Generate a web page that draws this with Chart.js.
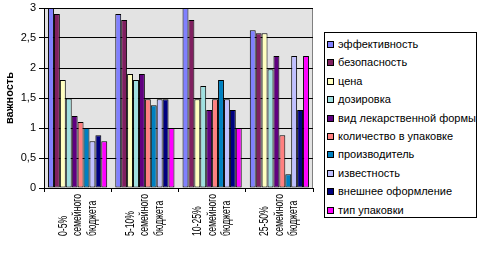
<!DOCTYPE html>
<html>
<head>
<meta charset="utf-8">
<script src="https://cdn.jsdelivr.net/npm/chart.js@4/dist/chart.umd.min.js"></script>
<style>
  body { margin: 0; background: #fff; }
  #wrap { position: relative; width: 480px; height: 255px; }
  #legend {
    position: absolute; left: 324px; top: 32px; width: 151px; height: 184px;
    border: 1px solid #000; background: #fff;
    font: 11px "Liberation Sans", Arial, sans-serif; color: #000;
  }
  .item { position: absolute; left: 2px; height: 14px; line-height: 14px; white-space: nowrap; }
  .item span.box {
    display: inline-block; width: 5px; height: 5px; border: 1px solid #000;
    margin-right: 4px; vertical-align: 0px;
  }
</style>
</head>
<body>
<div id="wrap">
  <canvas id="chart" width="480" height="255"></canvas>
  <div id="legend"></div>
</div>
<script>
// категории (доля семейного бюджета)
const categories = [
  ['0-5%', 'семейного', 'бюджета'],
  ['5-10%', 'семейного', 'бюджета'],
  ['10-25%', 'семейного', 'бюджета'],
  ['25-50%', 'семейного', 'бюджета']
];

const seriesNames = [
  'эффективность', 'безопасность', 'цена', 'дозировка', 'вид лекарственной формы',
  'количество в упаковке', 'производитель', 'известность', 'внешнее оформление', 'тип упаковки'
];

// excel-ish palette
const seriesColors = [
  '#8080FF', '#802060', '#FFFFC0', '#A0E0E0', '#600080',
  '#FF8080', '#0080C0', '#C0C0FF', '#000080', '#FF00FF'
];

const effectiveness = [3.0, 2.9, 3.0, 2.63];
const safety        = [2.9, 2.8, 2.8, 2.58];
const price         = [1.8, 1.9, 1.48, 2.58];
const dosage        = [1.49, 1.8, 1.7, 1.98];
const dosageForm    = [1.2, 1.9, 1.3, 2.2];
const packQuantity  = [1.1, 1.48, 1.48, 0.88];
const producer      = [1.0, 1.38, 1.8, 0.23];
const popularity    = [0.78, 1.48, 1.48, 2.2];
const appearance    = [0.88, 1.48, 1.3, 1.3];
const packType      = [0.78, 1.0, 1.0, 2.2];

const seriesValues = [effectiveness, safety, price, dosage, dosageForm,
  packQuantity, producer, popularity, appearance, packType];

const yTicks = [0, 0.5, 1, 1.5, 2, 2.5, 3];

const FONT = '"Liberation Sans", Arial, sans-serif';

const plotBg = {
  id: 'plotBg',
  beforeDraw(chart) {
    const { ctx, chartArea: a } = chart;
    ctx.save();
    ctx.fillStyle = '#E3E3E3';
    ctx.fillRect(a.left, a.top, a.right - a.left, a.bottom - a.top);
    ctx.strokeStyle = '#808080';
    ctx.lineWidth = 1;
    ctx.strokeRect(a.left + 0.5, a.top + 0.5, a.right - a.left - 1, a.bottom - a.top);
    ctx.restore();
  }
};

// category labels: vertical, several lines side by side, read bottom to top
const xLabels = {
  id: 'xLabels',
  afterDraw(chart) {
    const { ctx } = chart;
    const xs = chart.scales.x;
    ctx.save();
    ctx.fillStyle = '#000';
    ctx.font = '12px ' + FONT;
    ctx.textAlign = 'left';
    ctx.textBaseline = 'alphabetic';
    categories.forEach((lines, i) => {
      const cx = xs.getPixelForValue(i);
      lines.forEach((t, j) => {
        ctx.save();
        ctx.translate(cx - 11 + j * 14.5, xs.top + 48);
        ctx.rotate(-Math.PI / 2);
        ctx.scale(0.72, 1); // the original font is narrower
        ctx.fillText(t, 0, 0);
        ctx.restore();
      });
    });
    ctx.restore();
  }
};

const datasets = seriesNames.map((name, i) => ({
  label: name,
  data: seriesValues[i],
  backgroundColor: seriesColors[i],
  borderColor: '#000',
  borderWidth: 1,
  borderSkipped: false,
  categoryPercentage: 0.88,
  barPercentage: 1.0
}));

new Chart(document.getElementById('chart'), {
  type: 'bar',
  data: { labels: categories, datasets: datasets },
  plugins: [plotBg, xLabels],
  options: {
    responsive: false,
    animation: false,
    layout: { padding: { top: 8, right: 167, left: 0, bottom: 0 } },
    plugins: { legend: { display: false }, tooltip: { enabled: false } },
    scales: {
      x: {
        offset: true,
        grid: { drawOnChartArea: false, drawTicks: true, tickLength: 4, color: '#000', offset: true },
        border: { color: '#000' },
        ticks: { display: false },
        afterFit: (s) => { s.height = 67; }
      },
      y: {
        min: 0, max: 3,
        afterBuildTicks: (s) => { s.ticks = yTicks.map(v => ({ value: v })); },
        grid: { color: '#000', tickLength: 5 },
        border: { color: '#000' },
        ticks: {
          padding: 3, color: '#000',
          font: { family: FONT, size: 11 },
          callback: (v) => String(v).replace('.', ',')
        },
        title: {
          display: true, text: 'важность', color: '#000',
          font: { family: FONT, size: 11, weight: 'bold' },
          padding: { top: 3.5, bottom: 0 }
        },
        afterFit: (s) => { s.width = 44; s.paddingTop = 0; s.paddingBottom = 0; }
      }
    }
  }
});

// legend box built from the same arrays
const legend = document.getElementById('legend');
seriesNames.forEach((name, i) => {
  const d = document.createElement('div');
  d.className = 'item';
  d.style.top = (4 + i * 18.4) + 'px';
  d.innerHTML = '<span class="box" style="background:' + seriesColors[i] + '"></span>' + name;
  legend.appendChild(d);
});
</script>
</body>
</html>
